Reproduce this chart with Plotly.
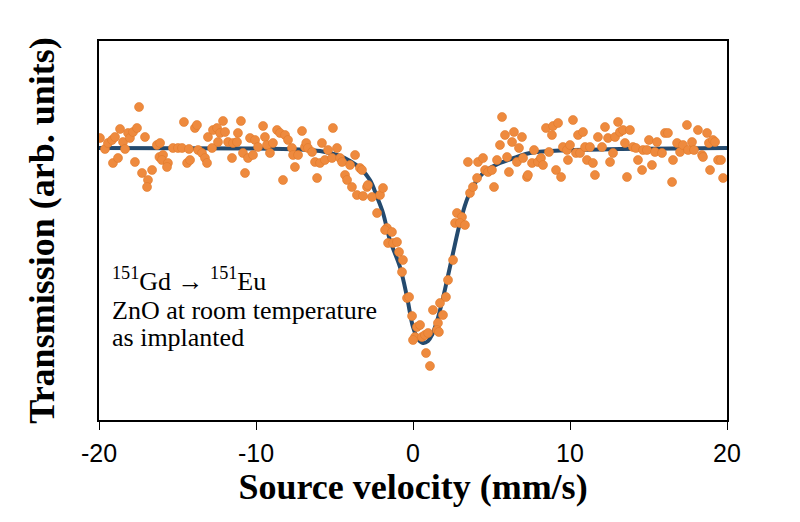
import plotly.graph_objects as go

# measured data points (source velocity mm/s, transmission arb. units)
vel = [-19.94, -19.62, -19.43, -19.17, -18.98, -19.11, -18.79, -18.66, -18.47, -18.34,
       -18.15, -18.03, -17.83, -17.58, -17.45, -17.71, -17.26, -17.07, -16.88, -16.62,
       -16.94, -16.31, -16.11, -16.15, -15.92, -15.99, -15.61, -15.67, -15.29, -14.97,
       -14.71, -14.59, -14.39, -14.20, -14.27, -13.89, -13.76, -13.69, -13.44, -13.25,
       -13.12, -13.06, -12.80, -12.74, -12.48, -12.42, -12.29, -12.10, -11.97, -11.78,
       -11.53, -11.46, -11.21, -11.15, -10.96, -10.83, -10.70, -10.51, -10.38, -10.19,
       -10.06, -9.87, -9.55, -9.43, -9.30, -9.11, -8.92, -8.66, -8.47, -8.28,
       -8.15, -7.96, -7.71, -7.64, -7.52, -7.32, -7.07, -6.88,
       -6.80, -6.69, -6.43, -6.24, -5.92, -5.80, -5.61, -5.41, -5.16, -5.10,
       -4.84, -4.65, -4.52, -4.01, -3.69, -6.11, -4.33, -4.20, -3.89, -3.38,
       -3.25, -2.93, -2.87, -3.57, -3.18, -2.61, -2.10, -1.91, -2.29, -1.66,
       -1.78, -1.34, -1.59, -1.27, -1.02, -0.89, -0.64, -0.70, -0.38, -0.25,
       -0.06, 0.25, 0.45, 0.13, 0.00, 0.57, 0.76, 0.96, 0.83, 1.08,
       1.27, 1.59, 1.53, 1.65, 1.72, 1.91, 2.10, 2.23, 2.55, 2.80,
       3.12, 2.68, 2.99, 3.31, 3.63, 3.50, 4.14, 4.08, 3.82,
       4.46, 4.59, 4.78, 5.03, 5.16, 5.35, 5.54, 5.67, 5.86, 5.99,
       6.11, 6.31, 6.43, 6.62, 6.75, 6.94, 7.01, 7.26, 7.32, 7.58,
       7.71, 7.96, 8.15, 8.28, 8.47, 8.66, 8.85, 8.92, 9.24, 9.11,
       9.43, 9.55, 9.81, 9.87, 10.00, 10.19, 10.38, 10.51, 10.64, 10.83,
       10.96, 11.08, 11.27, 11.46, 11.59, 11.78, 12.04, 12.23, 12.42, 12.55,
       12.74, 12.87, 13.06, 13.18, 13.38, 13.50, 13.63, 13.82, 14.01, 14.20,
       14.33, 14.59, 14.65, 14.90, 15.03, 15.22, 15.41, 15.54, 15.86, 16.05,
       16.24, 16.50, 16.56, 16.82, 17.01, 17.20, 17.45, 17.52, 17.77, 17.90,
       18.15, 18.41, 18.47, 18.73, 18.85, 18.92, 19.11, 19.24, 19.43, 19.62,
       19.75]
trans = [101.0, 99.9, 100.5, 100.8, 101.1, 98.5, 99.0, 101.9, 100.6, 99.9,
         101.5, 101.0, 101.6, 102.0, 104.1, 98.6, 97.5, 101.1, 96.8, 97.8,
         96.1, 100.3, 100.5, 99.1, 99.3, 98.8, 98.5, 98.1, 100.0, 100.0,
         100.0, 102.6, 98.5, 98.8, 99.9, 102.0, 102.3, 99.8, 99.5, 99.0,
         98.5, 101.1, 100.0, 101.8, 102.0, 100.6, 101.5, 102.7, 101.6, 100.6,
         99.0, 100.5, 100.6, 101.5, 102.7, 99.5, 97.5, 99.0, 101.0, 99.3,
         100.8, 100.1, 102.2, 101.1, 100.3, 99.5, 100.5, 101.8, 101.5, 96.8,
         101.3, 100.8, 100.0, 99.3, 98.1, 99.3, 101.7, 100.1,
         100.5, 100.0, 99.6, 98.6, 98.5, 100.5, 98.8, 99.8, 99.0, 102.0,
         100.0, 99.0, 98.6, 98.3, 99.3, 97.0, 97.3, 96.8, 96.1, 98.0,
         97.8, 96.1, 96.3, 95.3, 95.2, 95.1, 95.3, 96.0, 93.5, 92.0,
         91.8, 91.6, 90.5, 90.5, 90.6, 89.6, 88.8, 87.6, 85.0, 85.1,
         83.2, 82.1, 82.3, 81.1, 80.8, 81.1, 81.3, 81.5, 79.5, 78.2,
         83.8, 82.5, 81.8, 81.6, 84.5, 83.3, 85.1, 86.8, 88.8, 93.5,
         93.1, 92.5, 92.5, 92.3, 95.5, 98.6, 98.6, 97.0, 96.1,
         99.0, 97.8, 97.6, 97.8, 96.1, 98.8, 100.3, 103.1, 101.3, 99.1,
         97.6, 100.6, 101.6, 98.6, 100.0, 101.1, 99.0, 97.1, 97.3, 98.5,
         99.8, 98.6, 99.0, 98.3, 102.0, 99.6, 101.3, 102.2, 102.5, 97.8,
         97.1, 100.1, 99.8, 98.8, 100.3, 102.8, 99.5, 101.3, 99.5, 101.6,
         100.1, 98.8, 100.1, 98.5, 97.3, 101.1, 100.1, 102.1, 101.0, 98.6,
         99.5, 101.1, 102.6, 101.6, 101.8, 100.5, 97.1, 101.8, 100.1, 100.0,
         98.8, 97.8, 99.8, 99.8, 100.8, 98.3, 99.6, 100.6, 99.5, 101.5,
         101.5, 96.6, 98.8, 100.5, 99.6, 100.3, 102.3, 99.8, 100.6, 99.8,
         101.8, 99.3, 99.1, 101.5, 100.5, 97.8, 100.8, 100.6, 98.8, 98.8,
         97.0]

# fitted curve
fit_vel = [-20.00, -10.38, -7.20, -5.92, -4.84, -4.01, -3.38, -2.74, -2.29, -1.91,
           -1.47, -0.83, -0.38, 0.00, 0.32, 0.64, 0.96, 1.21, 1.53, 1.85,
           2.17, 2.55, 2.99, 3.50, 4.08, 4.71, 5.54, 6.62, 7.45, 9.36,
           13.18, 20.00]
fit_trans = [100.0, 99.95, 99.85, 99.7, 99.3, 98.7, 98.0, 96.8, 95.1, 93.5,
             90.8, 88.1, 85.1, 82.1, 80.9, 80.5, 80.7, 81.3, 82.7, 84.6,
             86.8, 89.5, 92.5, 95.1, 96.8, 97.8, 98.5, 99.1, 99.5, 99.75,
             99.9, 100.0]

x_ticks = [-20, -10, 0, 10, 20]

fig = go.Figure()
fig.add_trace(go.Scatter(x=fit_vel, y=fit_trans, mode="lines", line_shape="spline",
                         line=dict(color="#244a6e", width=4), hoverinfo="skip",
                         showlegend=False))
fig.add_trace(go.Scatter(x=vel, y=trans, mode="markers",
                         marker=dict(color="#ee8a3e", size=9,
                                     line=dict(width=0.6, color="#e07a2c")),
                         showlegend=False))

serif = "Liberation Serif, Times New Roman, serif"
ann_font = dict(family=serif, size=26, color="black")
fig.add_annotation(x=-19.3, y=86.9, xref="x", yref="y", xanchor="left", yanchor="middle",
                   text="<sup>151</sup>Gd → <sup>151</sup>Eu", showarrow=False, font=ann_font)
fig.add_annotation(x=-19.3, y=83.8, xref="x", yref="y", xanchor="left", yanchor="middle",
                   text="ZnO at room temperature", showarrow=False, font=ann_font)
fig.add_annotation(x=-19.3, y=81.1, xref="x", yref="y", xanchor="left", yanchor="middle",
                   text="as implanted", showarrow=False, font=ann_font)

fig.update_layout(
    width=792, height=514,
    margin=dict(l=91, r=73, t=33, b=102),
    paper_bgcolor="white", plot_bgcolor="white",
    xaxis=dict(range=[-20, 20], tickvals=x_ticks, ticktext=[str(v) for v in x_ticks],
               showgrid=False, zeroline=False, showline=True, mirror=True,
               linecolor="black", linewidth=1.5, ticks="outside", ticklen=8,
               tickcolor="black", tickwidth=1.2, ticklabelstandoff=2,
               tickfont=dict(family="Liberation Sans, Arial, sans-serif", size=25, color="black"),
               title=dict(text="<b>Source velocity (mm/s)</b>", standoff=6,
                          font=dict(family=serif, size=36, color="black"))),
    yaxis=dict(range=[72.8, 110.7], showgrid=False, zeroline=False, showline=True,
               mirror=True, linecolor="black", linewidth=1.5, showticklabels=False,
               ticks="",
               title=dict(text="<b>Transmission (arb. units)</b>", standoff=32,
                          font=dict(family=serif, size=36, color="black"))),
)

fig.write_html("out.html")
